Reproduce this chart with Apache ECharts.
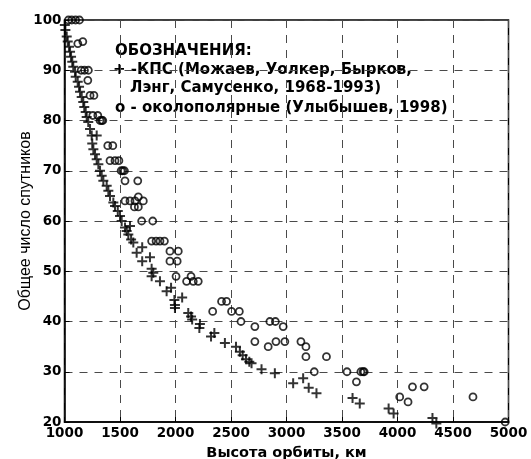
<!DOCTYPE html>
<html><head><meta charset="utf-8">
<script src="https://cdn.jsdelivr.net/npm/echarts@6/dist/echarts.min.js"></script>
<style>html,body{margin:0;padding:0;background:#fff}#c{width:531px;height:459px}</style>
</head><body><div id="c"></div>
<script>
// Data: [altitude km, total number of satellites]
var kpsPoints = [[1003,99],[1008,98],[1020,96.7],[1029,95.7],[1041,94.7],[1050,93.7],[1059,92.7],[1070,91.7],[1079,90.7],[1095,89.7],[1101,88.7],[1119,87.7],[1131,86.7],[1140,85.7],[1155,84.7],[1169,83.7],[1178,82.7],[1191,81.7],[1200,80.7],[1214,79.7],[1230,78.3],[1245,77],[1290,77],[1250,75.4],[1260,74.3],[1275,73.3],[1290,72.3],[1305,71.3],[1320,70],[1335,69],[1350,68],[1380,67],[1395,66],[1410,65],[1440,63.7],[1455,63],[1480,62],[1500,61],[1515,60],[1545,58.7],[1560,58],[1590,59],[1575,57.3],[1600,56.3],[1620,55.7],[1650,53.7],[1700,54.8],[1700,52],[1770,52.8],[1785,50.5],[1800,49.7],[1785,49],[1860,48],[1920,46],[1960,46.7],[1990,44.3],[1995,43.3],[2060,44.8],[1995,42.7],[2115,41.7],[2140,41],[2150,40.4],[2220,39.5],[2215,38.7],[2320,37],[2350,37.7],[2445,35.7],[2545,35],[2580,34],[2605,33.3],[2635,32.5],[2665,32],[2685,31.7],[2775,30.5],[2895,29.7],[3060,27.7],[3150,28.7],[3200,26.8],[3270,25.7],[3595,24.8],[3660,23.7],[3920,22.7],[3965,21.7],[4315,20.8],[4350,19.7]];
var polarPoints = [[1035,100],[1065,100],[1100,100],[1135,100],[1120,95.3],[1165,95.7],[1150,90],[1180,90],[1215,90],[1210,88],[1230,85],[1265,85],[1255,81],[1300,81],[1320,80],[1335,80],[1345,80],[1390,75],[1435,75],[1410,72],[1455,72],[1490,72],[1510,70],[1525,70],[1540,70],[1545,68],[1660,68],[1545,64],[1590,64],[1635,64],[1710,64],[1665,64.8],[1630,62.8],[1665,62.8],[1695,60],[1795,60],[1785,56],[1825,56],[1860,56],[1900,56],[1950,54],[2025,54],[1950,52],[2015,52],[2005,49],[2140,49],[2100,48],[2160,48],[2205,48],[2415,44],[2460,44],[2335,42],[2505,42],[2575,42],[2590,40],[2715,39],[2715,36],[2850,40],[2900,40],[2970,39],[2835,35],[2905,36],[2985,36],[3130,36],[3175,35],[3175,33],[3360,33],[3250,30],[3545,30],[3670,30],[3690,30],[3700,30],[3630,28],[4020,25],[4095,24],[4135,27],[4240,27],[4680,25],[4970,20]];
var xTicks = {min:1000, max:5000, step:500};
var yTicks = {min:20, max:100, step:10};
var legendLines = ['ОБОЗНАЧЕНИЯ:', '+ -КПС (Можаев, Уолкер, Бырков,', 'Лэнг, Самусенко, 1968-1993)', 'o - околополярные (Улыбышев, 1998)'];
var xName = 'Высота орбиты, км';
var yName = 'Общее число спутников';

var BFONT = 'DejaVu Sans, sans-serif';
var FONT = 'Liberation Sans, Arial, sans-serif';
var chart = echarts.init(document.getElementById('c'));
var plusPath = 'path://M3.2,0h1.6v3.2h3.2v1.6h-3.2v3.2h-1.6v-3.2h-3.2v-1.6h3.2z';
var dash = {type:[8,7], color:'#4a4a4a', width:1};
var plain = function(v){return String(v);};
chart.setOption({
  animation:false,
  grid:{left:64.5, right:22.5, top:20, bottom:37, containLabel:false, outerBoundsMode:'none',
    show:true, borderColor:'#000', borderWidth:1.5, backgroundColor:'transparent'},
  xAxis:{type:'value', min:xTicks.min, max:xTicks.max, interval:xTicks.step,
    name:xName, nameLocation:'middle', nameGap:24, nameMoveOverlap:false,
    nameTextStyle:{fontFamily:BFONT, fontWeight:'bold', fontSize:14.5, color:'#000'},
    axisLine:{lineStyle:{color:'#000', width:1.5}},
    axisTick:{show:true, inside:true, length:5, lineStyle:{color:'#000', width:1}},
    axisLabel:{fontFamily:BFONT, fontWeight:'bold', fontSize:13.5, color:'#000', margin:4, formatter:plain},
    splitLine:{show:true, lineStyle:dash}},
  yAxis:{type:'value', min:yTicks.min, max:yTicks.max, interval:yTicks.step,
    name:yName, nameLocation:'middle', nameGap:31, nameMoveOverlap:false,
    nameTextStyle:{fontFamily:FONT, fontSize:16, color:'#000'},
    axisLine:{show:true, lineStyle:{color:'#000', width:1.5}},
    axisTick:{show:true, inside:true, length:5, lineStyle:{color:'#000', width:1}},
    axisLabel:{fontFamily:BFONT, fontWeight:'bold', fontSize:13.5, color:'#000', margin:3, formatter:plain},
    splitLine:{show:true, lineStyle:dash}},
  series:[
    {type:'scatter', data:kpsPoints, symbol:plusPath, symbolSize:10, clip:false,
     itemStyle:{color:'#000'}},
    {type:'scatter', data:polarPoints, symbol:'circle', symbolSize:7, clip:false,
     itemStyle:{color:'rgba(0,0,0,0)', borderColor:'#000', borderWidth:1.8}}
  ],
  graphic:[
    {type:'text', left:115, top:44, style:{text:legendLines[0], font:'bold 15px '+BFONT, fill:'#000'}},
    {type:'text', left:113, top:63, style:{text:legendLines[1], font:'bold 15px '+BFONT, fill:'#000'}},
    {type:'text', left:130, top:81, style:{text:legendLines[2], font:'bold 15px '+BFONT, fill:'#000'}},
    {type:'text', left:115, top:101, style:{text:legendLines[3], font:'bold 15px '+BFONT, fill:'#000'}}
  ]
});
</script></body></html>
